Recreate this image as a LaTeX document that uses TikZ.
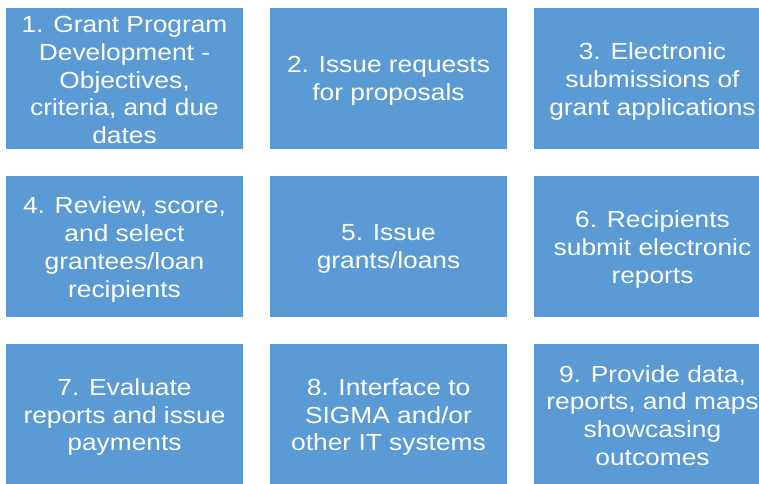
\documentclass[tikz,border=0pt]{standalone}
\usepackage{fontspec}
\setmainfont[FakeStretch=1.13]{Liberation Sans}
\definecolor{boxblue}{HTML}{5B9BD5}
\begin{document}
\begin{tikzpicture}[x=1pt,y=-1pt,
  box/.style={fill=boxblue, draw=none, minimum width=237pt, minimum height=141pt,
    inner sep=0pt},
  lbl/.style={inner sep=0pt, text=white, align=center,
    font=\fontsize{23.3}{27.7}\selectfont}]
\useasboundingbox (0,0) rectangle (759,483);
\node[box] (b1) at (124.5,78.5) {};
\node[box] (b2) at (388.5,78.5) {};
\node[box] (b3) at (652.5,78.5) {};
\node[box] (b4) at (124.5,246.5) {};
\node[box] (b5) at (388.5,246.5) {};
\node[box] (b6) at (652.5,246.5) {};
\node[box] (b7) at (124.5,414.5) {};
\node[box] (b8) at (388.5,414.5) {};
\node[box] (b9) at (652.5,414.5) {};
\node[lbl] (t1) at ([yshift=-1.5pt]b1.center) {1. Grant Program\\Development -\\Objectives,\\criteria, and due\\dates};
\node[lbl] (t2) at ([yshift=-2.5pt]b2.center) {2. Issue requests\\for proposals};
\node[lbl] (t3) at ([yshift=-3pt]b3.center) {3. Electronic\\submissions of\\grant applications};
\node[lbl] (t4) at ([yshift=-3pt]b4.center) {4. Review, score,\\and select\\grantees/loan\\recipients};
\node[lbl] (t5) at ([yshift=-2.5pt]b5.center) {5. Issue\\grants/loans};
\node[lbl] (t6) at ([yshift=-3pt]b6.center) {6. Recipients\\submit electronic\\reports};
\node[lbl] (t7) at ([yshift=-2.5pt]b7.center) {7. Evaluate\\reports and issue\\payments};
\node[lbl] (t8) at ([yshift=-2.5pt]b8.center) {8. Interface to\\SIGMA and/or\\other IT systems};
\node[lbl] (t9) at ([yshift=-1pt]b9.center) {9. Provide data,\\reports, and maps\\showcasing\\outcomes};
\end{tikzpicture}
\end{document}
